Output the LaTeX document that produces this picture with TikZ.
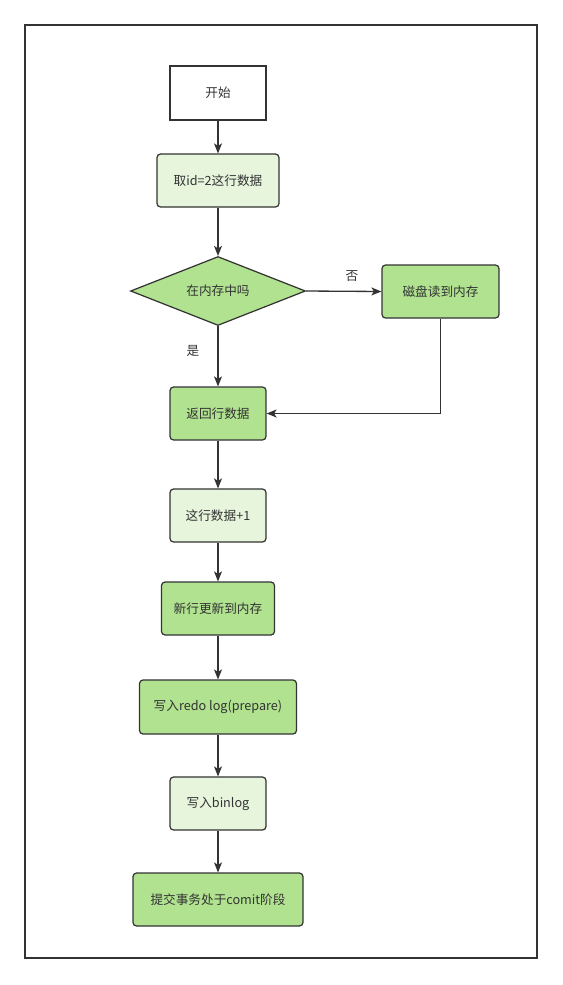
\documentclass[tikz,border=0pt]{standalone}
\usepackage{fontspec}
\usepackage{xcolor}
\usepackage{tikz}
\usetikzlibrary{shapes.geometric, arrows.meta}
\newfontfamily\cjk{Noto Sans CJK SC}
\definecolor{flowline}{HTML}{333333}
\definecolor{flowtext}{HTML}{333333}
\definecolor{lightgreen}{HTML}{E6F5DC}
\definecolor{darkgreen}{HTML}{B0E290}

\begin{document}
\begin{tikzpicture}[
    x=0.02cm, y=-0.02cm,
    every node/.style={font=\cjk\fontsize{7.2}{8.5}\selectfont, text=flowtext},
    startbox/.style={rectangle, draw=flowline, line width=0.7pt, fill=white, inner sep=0pt, minimum width=1.92cm, minimum height=1.08cm},
    litebox/.style={rectangle, rounded corners=2pt, draw=flowline, line width=0.7pt, fill=lightgreen, inner sep=0pt, minimum height=1.06cm},
    darkbox/.style={rectangle, rounded corners=2pt, draw=flowline, line width=0.7pt, fill=darkgreen, inner sep=0pt, minimum height=1.06cm},
    decision/.style={diamond, aspect=2.5, draw=flowline, line width=0.7pt, fill=darkgreen, inner sep=0pt, minimum width=3.5cm, minimum height=1.38cm},
    arrow/.style={-{Stealth[length=2mm, width=1.6mm, inset=0.5mm]}, line width=0.75pt, color=flowline}
]
\useasboundingbox (0,0) rectangle (563,985);
% outer frame
\draw[flowline, line width=0.6pt] (25,25) rectangle (537,958);

% main column
\node[startbox] (start) at (218,93) {开始};
\node[litebox, minimum width=2.44cm] (fetch) at (218,180.5) {取id=2这行数据};
\node[decision] (inmem) at (218,291) {在内存中吗};
\node[darkbox, minimum width=2.34cm] (disk) at (440.5,291.5) {磁盘读到内存};
\node[darkbox, minimum width=1.92cm] (ret) at (218,413.5) {返回行数据};
\node[litebox, minimum width=1.92cm] (plus) at (218,515.5) {这行数据+1};
\node[darkbox, minimum width=2.26cm] (update) at (218,608.5) {新行更新到内存};
\node[darkbox, minimum width=3.14cm, minimum height=1.08cm] (redo) at (218,707) {写入redo log(prepare)};
\node[litebox, minimum width=1.92cm] (binlog) at (218,803.5) {写入binlog};
\node[darkbox, minimum width=3.4cm] (commit) at (218,899.5) {提交事务处于comit阶段};

% branch labels
\node (no) at (352,276) {否};
\node (yes) at (193,351) {是};

% connectors
\draw[arrow] (start) -- (fetch);
\draw[arrow] (fetch) -- (inmem);
\draw[arrow] (inmem.east) -- (disk.west);
\draw[arrow] (inmem.south) -- (ret.north);
\draw[arrow] (disk.south) |- (ret.east);
\draw[arrow] (ret) -- (plus);
\draw[arrow] (plus) -- (update);
\draw[arrow] (update) -- (redo);
\draw[arrow] (redo) -- (binlog);
\draw[arrow] (binlog) -- (commit);

\end{tikzpicture}
\end{document}
